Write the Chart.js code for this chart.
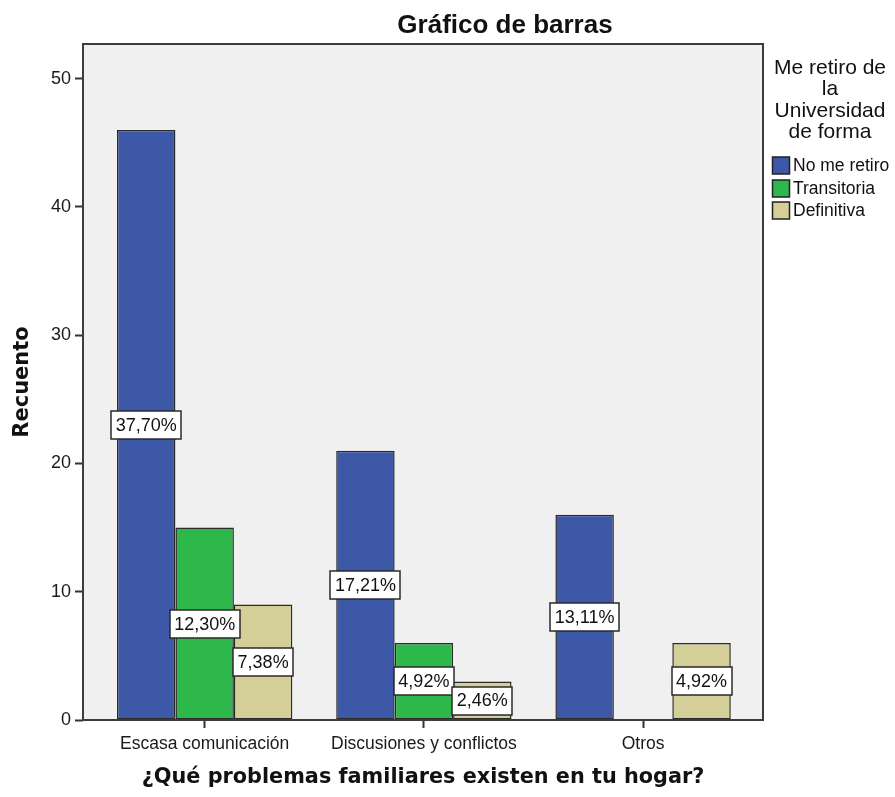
<!DOCTYPE html>
<html lang="es">
<head>
<meta charset="utf-8">
<title>Gráfico de barras</title>
<script src="https://cdn.jsdelivr.net/npm/chart.js@4.4.1/dist/chart.umd.min.js"></script>
<style>
html,body{margin:0;padding:0;background:#fff;}
canvas{display:block;}
</style>
</head>
<body>
<canvas id="grafico" width="895" height="797"></canvas>
<script>
'use strict';

var CATEGORIAS = ['Escasa comunicación', 'Discusiones y conflictos', 'Otros'];
var SERIES = ['No me retiro', 'Transitoria', 'Definitiva'];
var NO_ME_RETIRO = [46, 21, 16];
var TRANSITORIA = [15, 6, 0];
var DEFINITIVA = [9, 3, 6];
var Y_TICKS = [0, 10, 20, 30, 40, 50];
var LEYENDA_TITULO = ['Me retiro de', 'la', 'Universidad', 'de forma'];

var COLORES = ['#3e58a8', '#2eb84b', '#d4ce99'];
var FUENTE = '"Liberation Sans", Arial, sans-serif';

var TOTAL = 0;
[NO_ME_RETIRO, TRANSITORIA, DEFINITIVA].forEach(function(arr){
  arr.forEach(function(v){ TOTAL += v; });
});

function puntos(arr) {
  return arr.map(function(v, i){ return {x: i, y: v}; });
}

function fmtPct(v) {
  return (v / TOTAL * 100).toFixed(2).replace('.', ',') + '%';
}

var fondoYMarco = {
  id: 'fondoYMarco',
  beforeDraw: function(chart) {
    var a = chart.chartArea, ctx = chart.ctx;
    ctx.save();
    ctx.fillStyle = '#f0f0f0';
    ctx.fillRect(a.left, a.top, a.right - a.left, a.bottom - a.top);
    ctx.restore();
  },
  afterDraw: function(chart) {
    var a = chart.chartArea, ctx = chart.ctx;
    ctx.save();
    ctx.strokeStyle = '#3c3c3c';
    ctx.lineWidth = 2;
    ctx.strokeRect(a.left, a.top, a.right - a.left, a.bottom - a.top);

    // titulo
    ctx.fillStyle = '#111';
    ctx.font = 'bold 26px ' + FUENTE;
    ctx.textAlign = 'center';
    ctx.textBaseline = 'alphabetic';
    ctx.fillText('Gráfico de barras', 505, 33);

    // leyenda
    var lx = a.right + 67;
    ctx.font = '21px ' + FUENTE;
    ctx.textBaseline = 'middle';
    LEYENDA_TITULO.forEach(function(t, i){
      ctx.fillText(t, lx, 68 + i * 21.5);
    });
    ctx.textAlign = 'left';
    ctx.font = '17.5px ' + FUENTE;
    chart.data.datasets.forEach(function(ds, i){
      var y = 165.5 + i * 22.5;
      ctx.fillStyle = ds.backgroundColor;
      ctx.fillRect(a.right + 9.5, Math.round(y - 8.5), 17, 17);
      ctx.strokeStyle = '#222';
      ctx.lineWidth = 1.5;
      ctx.strokeRect(a.right + 9.5, Math.round(y - 8.5), 17, 17);
      ctx.fillStyle = '#111';
      ctx.fillText(ds.label, a.right + 30, y + 1);
    });
    ctx.restore();
  }
};

var etiquetasPct = {
  id: 'etiquetasPct',
  afterDatasetsDraw: function(chart) {
    var ctx = chart.ctx;
    ctx.save();
    ctx.font = '18px ' + FUENTE;
    ctx.textAlign = 'center';
    ctx.textBaseline = 'middle';
    chart.data.datasets.forEach(function(ds, di){
      var meta = chart.getDatasetMeta(di);
      meta.data.forEach(function(bar, i){
        var v = ds.data[i].y;
        if (!v) return;
        var txt = fmtPct(v);
        var w = Math.round(ctx.measureText(txt).width + 9);
        var h = 28;
        var cx = bar.x, cy = (bar.y + bar.base) / 2;
        var x0 = Math.round(cx - w / 2), y0 = Math.round(cy - h / 2);
        ctx.fillStyle = '#fff';
        ctx.fillRect(x0, y0, w, h);
        ctx.strokeStyle = '#2a2a2a';
        ctx.lineWidth = 1.5;
        ctx.strokeRect(x0, y0, w, h);
        ctx.fillStyle = '#111';
        ctx.fillText(txt, cx, cy + 1);
      });
    });
    ctx.restore();
  }
};

var datasets = [NO_ME_RETIRO, TRANSITORIA, DEFINITIVA].map(function(arr, i){
  return {
    label: SERIES[i],
    data: puntos(arr),
    backgroundColor: COLORES[i],
    borderColor: '#2a2a2a',
    borderWidth: 1.5,
    borderSkipped: false,
    categoryPercentage: 0.8,
    barPercentage: 1.0
  };
});

new Chart(document.getElementById('grafico'), {
  type: 'bar',
  data: {datasets: datasets},
  options: {
    responsive: false,
    animation: false,
    layout: {padding: {top: 44, right: 132, left: 0, bottom: 0}},
    plugins: {
      legend: {display: false},
      tooltip: {enabled: false}
    },
    scales: {
      x: {
        type: 'linear',
        min: -0.555,
        max: 2.547,
        offset: false,
        afterBuildTicks: function(s){
          s.ticks = CATEGORIAS.map(function(c, i){ return {value: i}; });
        },
        afterFit: function(s){ s.height = 77; },
        ticks: {
          autoSkip: false,
          maxRotation: 0,
          padding: 6,
          color: '#1a1a1a',
          font: {family: FUENTE, size: 17.5},
          callback: function(v){ return CATEGORIAS[v]; }
        },
        grid: {display: true, offset: false, drawOnChartArea: false, drawTicks: true, tickLength: 8, tickColor: '#333', tickWidth: 2},
        border: {display: false},
        title: {
          display: true,
          text: '¿Qué problemas familiares existen en tu hogar?',
          color: '#111',
          font: {family: '"DejaVu Sans", Verdana, sans-serif', size: 20.8, weight: 'bold'},
          padding: {top: 0, bottom: 7}
        }
      },
      y: {
        min: 0,
        max: 52.7,
        afterBuildTicks: function(s){
          s.ticks = Y_TICKS.map(function(v){ return {value: v}; });
        },
        afterFit: function(s){ s.width = 83; },
        ticks: {
          padding: 4,
          color: '#1a1a1a',
          font: {family: FUENTE, size: 18}
        },
        grid: {display: true, drawOnChartArea: false, drawTicks: true, tickLength: 8, tickColor: '#333', tickWidth: 2},
        border: {display: false},
        title: {
          display: true,
          text: 'Recuento',
          color: '#111',
          font: {family: '"DejaVu Sans", Verdana, sans-serif', size: 21, weight: 'bold'},
          padding: {top: 10, bottom: 0}
        }
      }
    }
  },
  plugins: [fondoYMarco, etiquetasPct]
});
</script>
</body>
</html>
